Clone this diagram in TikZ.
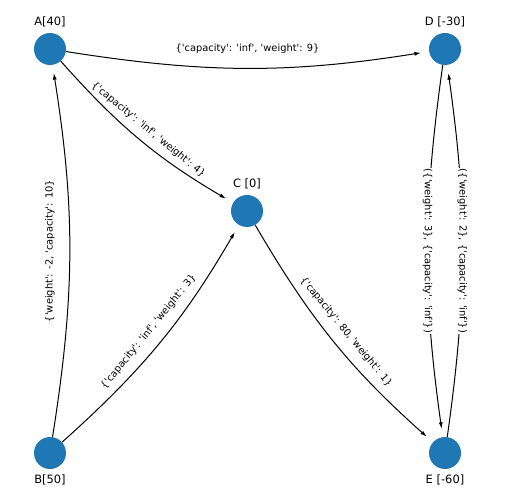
\documentclass[tikz,border=0pt]{standalone}
\usepackage{fontspec}
\setmainfont{DejaVu Sans}[Ligatures=TeXOff]
\usetikzlibrary{arrows.meta}
\definecolor{nxblue}{HTML}{1F77B4}

\begin{document}
\begin{tikzpicture}[x=0.75pt,y=0.75pt,>={Latex[length=5pt,width=3pt]},
  vtx/.style={circle,fill=nxblue,minimum size=24pt,inner sep=0pt},
  vlab/.style={font=\fontsize{8.6}{10}\selectfont},
  elab/.style={font=\fontsize{7.4}{9}\selectfont,fill=white,inner sep=1pt},
  arc/.style={->,line width=0.75pt,shorten >=6pt,bend right=9}]
  \useasboundingbox (0,0) rectangle (516,503);
  \node[vtx] (A) at (50,454) {};
  \node[vtx] (D) at (445,454) {};
  \node[vtx] (C) at (247,292) {};
  \node[vtx] (B) at (50,50) {};
  \node[vtx] (E) at (445,50) {};
  \node[vlab] (labA) at (50,481) {A[40]};
  \node[vlab] (labD) at (445,481) {D [-30]};
  \node[vlab] (labC) at (247,319) {C [0]};
  \node[vlab] (labB) at (50,23) {B[50]};
  \node[vlab] (labE) at (445,23) {E [-60]};
  \draw[arc] (A) to (D);
  \draw[arc] (A) to (C);
  \draw[arc] (B) to (A);
  \draw[arc] (B) to (C);
  \draw[arc] (C) to (E);
  \draw[arc,bend right=8] (D) to node[elab,rotate=-90] (lDE) {(\{'weight': 3\}, \{'capacity': 'inf'\})} (E);
  \draw[arc,bend right=8] (E) to node[elab,rotate=-90] (lED) {(\{'weight': 2\}, \{'capacity': 'inf'\})} (D);
  \path (A) -- node[elab,sloped] (lAD) {\{'capacity': 'inf', 'weight': 9\}} (D);
  \path (A) -- node[elab,sloped] (lAC) {\{'capacity': 'inf', 'weight': 4\}} (C);
  \path (B) -- node[elab,sloped] (lBA) {\{'weight': -2, 'capacity': 10\}} (A);
  \path (B) -- node[elab,sloped] (lBC) {\{'capacity': 'inf', 'weight': 3\}} (C);
  \path (C) -- node[elab,sloped] (lCE) {\{'capacity': 80, 'weight': 1\}} (E);
\end{tikzpicture}
\end{document}
